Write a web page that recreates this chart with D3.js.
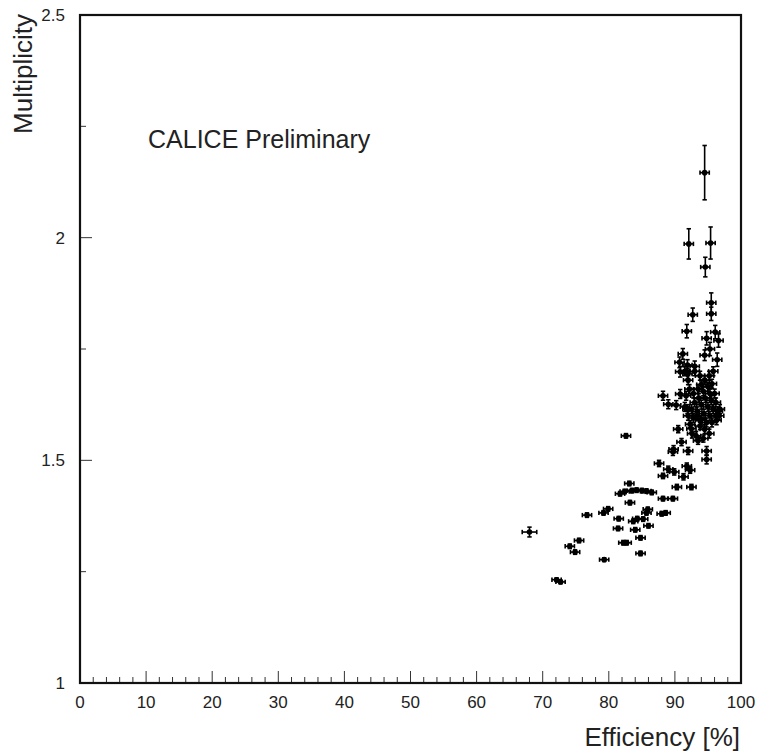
<!DOCTYPE html>
<html><head><meta charset="utf-8">
<script src="https://cdn.jsdelivr.net/npm/d3@7"></script>
<style>body{margin:0;background:#fff}svg{display:block}text{font-family:"Liberation Sans",Arial,sans-serif;fill:#222}</style>
</head><body>
<script>
// Efficiency [%], Multiplicity, and their errors
const efficiency = [68.0,72.1,72.7,79.3,74.1,74.9,75.5,76.7,79.2,79.9,81.4,81.5,82.2,82.7,84.0,84.8,84.8,86.0,83.2,83.1,82.6,81.7,
 82.4,83.5,84.2,85.0,85.7,86.5,84.3,85.2,85.9,85.7,83.7,88.0,88.6,88.2,89.7,88.2,90.3,92.5,
 87.6,89.0,89.9,91.3,91.8,92.3,89.8,89.7,92.0,91.0,93.5,94.3,94.8,94.8,90.5,92.5,92.3,93.8,94.0,93.3,
 88.2,89.0,90.2,90.8,91.7,91.9,91.8,92.7,95.5,95.5,94.8,96.1,96.6,95.3,94.5,91.2,96.4,90.8,91.9,93.0,91.9,
 94.5,92.1,95.4,94.6,
 93.0,93.8,94.5,95.2,95.8,94.0,95.0,95.6,93.5,94.3,95.3,96.0,92.8,93.6,94.6,95.5,96.2,93.0,94.0,95.0,95.8,
 92.5,93.4,94.4,95.3,96.2,96.5,92.8,93.8,94.8,95.6,96.3,92.6,94.5,95.2,93.2,92.0,91.5,92.2,92.0,91.5,90.7,96.7,96.8];
const multiplicity = [1.339,1.232,1.227,1.277,1.307,1.294,1.320,1.377,1.382,1.391,1.347,1.369,1.315,1.315,1.344,1.326,1.291,1.353,1.405,1.448,1.555,1.425,
 1.430,1.432,1.433,1.432,1.431,1.428,1.369,1.368,1.390,1.382,1.363,1.380,1.382,1.414,1.414,1.465,1.440,1.440,
 1.493,1.480,1.474,1.463,1.487,1.478,1.525,1.519,1.521,1.541,1.544,1.549,1.521,1.502,1.570,1.571,1.581,1.577,1.592,1.600,
 1.645,1.626,1.624,1.649,1.645,1.615,1.790,1.827,1.854,1.829,1.774,1.788,1.769,1.750,1.736,1.739,1.726,1.699,1.714,1.711,1.694,
 2.146,1.986,1.988,1.934,
 1.700,1.690,1.680,1.690,1.700,1.670,1.665,1.672,1.660,1.655,1.650,1.650,1.650,1.640,1.640,1.635,1.630,1.630,1.625,1.620,1.615,
 1.615,1.610,1.605,1.600,1.600,1.610,1.595,1.590,1.585,1.585,1.590,1.560,1.570,1.560,1.555,1.600,1.620,1.660,1.680,1.700,1.720,1.600,1.615];
const efficiencyErr = efficiency.map((e,i)=> i===0 ? 1.1 : 0.7);
const multiplicityErr = [0.011,0.004,0.004,0.004,0.005,0.005,0.005,0.005,0.005,0.005,0.005,0.005,0.005,0.005,0.005,0.005,0.005,0.005,0.005,0.005,0.005,0.005,
 0.005,0.005,0.005,0.005,0.005,0.005,0.005,0.005,0.005,0.005,0.005,0.005,0.005,0.005,0.005,0.006,0.006,0.006,
 0.007,0.007,0.007,0.007,0.007,0.007,0.008,0.008,0.008,0.008,0.008,0.008,0.010,0.010,0.008,0.008,0.008,0.008,0.008,0.008,
 0.010,0.010,0.010,0.010,0.010,0.010,0.015,0.015,0.022,0.015,0.015,0.015,0.015,0.015,0.012,0.012,0.015,0.012,0.012,0.012,0.012,
 0.061,0.034,0.036,0.022,
 0.010,0.010,0.010,0.010,0.010,0.010,0.010,0.010,0.010,0.010,0.010,0.010,0.010,0.010,0.010,0.010,0.010,0.010,0.010,0.010,0.010,
 0.010,0.010,0.010,0.010,0.010,0.010,0.010,0.010,0.010,0.010,0.010,0.010,0.010,0.010,0.010,0.010,0.010,0.010,0.010,0.010,0.012,0.010,0.010];
const xTicks = [0,10,20,30,40,50,60,70,80,90,100];
const yTicks = [1,1.5,2,2.5];
const yTickLabels = ["1","1.5","2","2.5"];

const W=759,H=753;
const svg=d3.select("body").append("svg").attr("width",W).attr("height",H);
const x=d3.scaleLinear().domain([0,100]).range([80,741]);
const y=d3.scaleLinear().domain([1,2.5]).range([683,15]);

// minor / major ticks (inward)
const g=svg.append("g");
d3.range(0,101,2).forEach(v=>{
  const major = v%10===0;
  g.append("line").attr("x1",x(v)).attr("x2",x(v)).attr("y1",683).attr("y2",683-(major?12:6))
   .attr("stroke","#333").attr("stroke-width",1);
});
d3.range(1,2.51,0.25).forEach(v=>{
  const major = Math.abs(v*2-Math.round(v*2))<1e-6;
  g.append("line").attr("x1",80).attr("x2",80+(major?12:6)).attr("y1",y(v)).attr("y2",y(v))
   .attr("stroke","#333").attr("stroke-width",1);
});

// frame
svg.append("rect").attr("x",80).attr("y",15).attr("width",661).attr("height",668)
  .attr("fill","none").attr("stroke","#111").attr("stroke-width",2.2);

// tick labels
svg.append("g").selectAll("text").data(xTicks).join("text")
  .attr("x",d=>x(d)).attr("y",708).attr("text-anchor","middle")
  .attr("font-size",17).text(d=>d);
svg.append("g").selectAll("text").data(yTicks).join("text")
  .attr("x",65).attr("y",d=>y(d)+6).attr("text-anchor","end")
  .attr("font-size",17).text((d,i)=>yTickLabels[i]);

// titles
svg.append("text").attr("x",740).attr("y",746).attr("text-anchor","end").attr("font-size",26).text("Efficiency [%]");
svg.append("text").attr("transform","translate(32,14) rotate(-90)").attr("text-anchor","end").attr("font-size",26).text("Multiplicity");
svg.append("text").attr("x",148).attr("y",148).attr("font-size",25).text("CALICE Preliminary");

// data
const pts = efficiency.map((e,i)=>({e, m:multiplicity[i], ex:efficiencyErr[i], ey:multiplicityErr[i]}));
const pg=svg.append("g").attr("stroke","#000").attr("stroke-width",1.6);
pts.forEach(p=>{
  const cx=x(p.e), cy=y(p.m);
  const x0=x(p.e-p.ex), x1=x(p.e+p.ex), y0=y(p.m-p.ey), y1=y(p.m+p.ey);
  pg.append("line").attr("x1",x0).attr("x2",x1).attr("y1",cy).attr("y2",cy);
  pg.append("line").attr("x1",x0).attr("x2",x0).attr("y1",cy-2.2).attr("y2",cy+2.2);
  pg.append("line").attr("x1",x1).attr("x2",x1).attr("y1",cy-2.2).attr("y2",cy+2.2);
  pg.append("line").attr("x1",cx).attr("x2",cx).attr("y1",y0).attr("y2",y1);
  pg.append("line").attr("x1",cx-2.2).attr("x2",cx+2.2).attr("y1",y0).attr("y2",y0);
  pg.append("line").attr("x1",cx-2.2).attr("x2",cx+2.2).attr("y1",y1).attr("y2",y1);
});
svg.append("g").selectAll("circle").data(pts).join("circle")
  .attr("cx",d=>x(d.e)).attr("cy",d=>y(d.m)).attr("r",2.8).attr("fill","#000");
</script>
</body></html>
